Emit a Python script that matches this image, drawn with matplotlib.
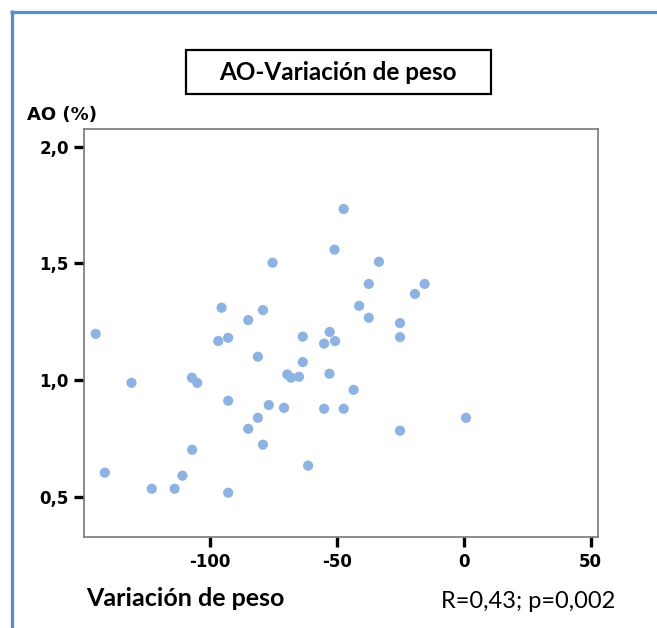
import matplotlib
matplotlib.use("Agg")
import matplotlib.pyplot as plt
from matplotlib.lines import Line2D
from matplotlib.patches import Rectangle
from matplotlib.ticker import FuncFormatter

# Weight change vs. AO (%)
variacion_peso = [
    -145.0, -141.4, -130.9, -122.9, -113.9, -110.8, -107.1, -107.0, -105.0,
    -96.7, -95.4, -92.8, -92.8, -92.8, -84.9, -84.9, -81.1, -81.1, -79.1,
    -79.1, -76.8, -75.3, -70.8, -69.5, -68.0, -64.9, -63.4, -63.4, -61.3,
    -55.0, -55.0, -52.8, -52.9, -50.9, -50.7, -47.3, -47.3, -43.4, -41.2,
    -37.4, -37.4, -33.4, -25.1, -25.1, -25.1, -19.2, -15.4, 0.9,
]
ao_pct = [
    1.198, 0.603, 0.988, 0.534, 0.534, 0.590, 1.010, 0.701, 0.988,
    1.167, 1.310, 1.181, 0.911, 0.517, 1.257, 0.791, 1.100, 0.838, 1.300,
    0.723, 0.893, 1.503, 0.881, 1.024, 1.010, 1.014, 1.186, 1.077, 0.633,
    1.156, 0.877, 1.206, 1.027, 1.559, 1.167, 1.733, 0.877, 0.958, 1.318,
    1.412, 1.267, 1.507, 1.244, 1.184, 0.783, 1.369, 1.412, 0.838,
]
x_ticks = [-100, -50, 0, 50]
y_ticks = [0.5, 1.0, 1.5, 2.0]

titulo = "AO-Variación de peso"
etiqueta_x = "Variación de peso"
etiqueta_y = "AO (%)"
estadistico = "R=0,43; p=0,002"

W, H = 657, 628
fig = plt.figure(figsize=(W / 100, H / 100), dpi=100)
fig.patch.set_facecolor("white")

ax = fig.add_axes([84 / W, 1 - 537.3 / H, (597.5 - 84) / W, (537.3 - 129) / H])
ax.scatter(variacion_peso, ao_pct, s=54, color="#8db3e2", edgecolors="none", zorder=3)
ax.set_xlim(-149.6, 52.7)
ax.set_ylim(0.326, 2.076)
ax.set_xticks(x_ticks)
ax.set_yticks(y_ticks)
ax.xaxis.set_major_formatter(FuncFormatter(lambda v, p: f"{v:.0f}"))
ax.yaxis.set_major_formatter(FuncFormatter(lambda v, p: f"{v:.1f}".replace(".", ",")))
for s in ax.spines.values():
    s.set_color("#787878")
    s.set_linewidth(1.2)
ax.tick_params(axis="both", direction="out", length=7, width=2.4, color="black",
               labelsize=12, pad=4)
for lbl in ax.get_xticklabels() + ax.get_yticklabels():
    lbl.set_fontweight("bold")
    lbl.set_family("DejaVu Sans")

# Y axis title above the axis
fig.text(27 / W, 1 - 115 / H, etiqueta_y, fontsize=13, fontweight="bold",
         family="DejaVu Sans", ha="left", va="center")

# Boxed chart title
fig.patches.append(Rectangle((185.7 / W, 1 - 94.3 / H), (491 - 185.7) / W, (94.3 - 50) / H,
                             transform=fig.transFigure, fill=False, edgecolor="black",
                             linewidth=1.6))
fig.text(338.3 / W, 1 - 72 / H, titulo, fontsize=17.5, fontweight="bold",
         family="Lato", ha="center", va="center")

# X axis title and statistic
fig.text(86 / W, 1 - 599 / H, etiqueta_x, fontsize=18, fontweight="bold",
         family="Lato", ha="left", va="center")
fig.text(441 / W, 1 - 602 / H, estadistico, fontsize=17,
         family="Lato", ha="left", va="center")

# Blue frame lines on top and left
blue = "#558ed5"
fig.add_artist(Line2D([11.7 / W, 11.7 / W], [1 - 10 / H, 0], transform=fig.transFigure,
                      color=blue, linewidth=2.3, solid_capstyle="butt"))
fig.add_artist(Line2D([10 / W, 1], [1 - 11.5 / H, 1 - 11.5 / H], transform=fig.transFigure,
                      color=blue, linewidth=2.3, solid_capstyle="butt"))

fig.savefig("out.png", dpi=100, facecolor="white")
